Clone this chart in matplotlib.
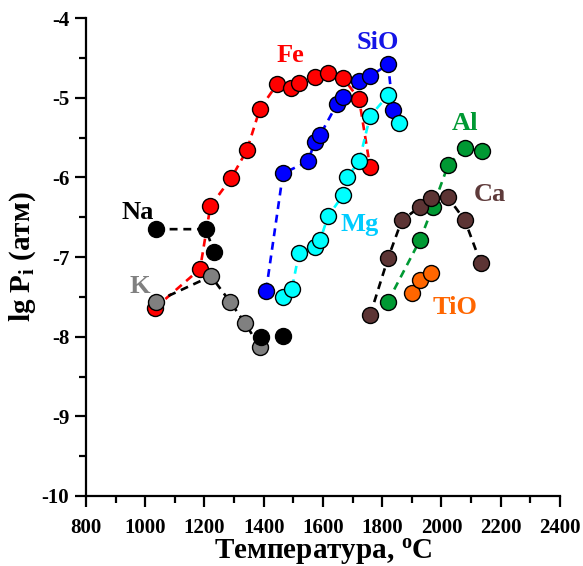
import numpy as np
import matplotlib.pyplot as plt
from matplotlib.ticker import MultipleLocator

plt.rcParams['font.family'] = ['Liberation Serif', 'DejaVu Serif']
plt.rcParams['font.weight'] = 'bold'
plt.rcParams['axes.labelweight'] = 'bold'
plt.rcParams['axes.unicode_minus'] = False
plt.rcParams['mathtext.fontset'] = 'custom'
plt.rcParams['mathtext.rm'] = 'Liberation Serif:bold'
plt.rcParams['mathtext.bf'] = 'Liberation Serif:bold'
plt.rcParams['mathtext.it'] = 'Liberation Serif:bold'

# data: temperature (C), lg P (atm)
fe_t = [1033, 1185, 1220, 1290, 1343, 1387, 1445, 1492, 1519, 1573, 1617, 1668, 1722, 1759]
fe_p = [-7.64, -7.15, -6.36, -6.01, -5.66, -5.14, -4.83, -4.88, -4.82, -4.74, -4.69, -4.75, -5.02, -5.87]

sio_t = [1408, 1465, 1549, 1573, 1590, 1647, 1668, 1722, 1759, 1820, 1836]
sio_p = [-7.42, -5.95, -5.80, -5.55, -5.47, -5.08, -4.99, -4.79, -4.73, -4.58, -5.15]

mg_t = [1465, 1495, 1519, 1573, 1590, 1617, 1668, 1681, 1722, 1759, 1820, 1857]
mg_p = [-7.50, -7.40, -6.95, -6.87, -6.79, -6.49, -6.22, -6.00, -5.80, -5.23, -4.97, -5.32]

na_t = [1036, 1205, 1232, 1391, 1465]
na_p = [-6.65, -6.65, -6.94, -8.00, -7.99]

k_t = [1036, 1222, 1286, 1337, 1387]
k_p = [-7.56, -7.24, -7.56, -7.83, -8.13]

al_t = [1819, 1927, 1971, 2022, 2079, 2137]
al_p = [-7.56, -6.79, -6.37, -5.85, -5.63, -5.67]

ca_t = [1759, 1820, 1866, 1927, 1966, 2022, 2079, 2133]
ca_p = [-7.73, -7.01, -6.54, -6.37, -6.26, -6.25, -6.54, -7.08]

tio_t = [1900, 1927, 1966]
tio_p = [-7.45, -7.29, -7.20]

fig = plt.figure(figsize=(5.83, 5.66), dpi=100)
ax = fig.add_axes([0.1475, 0.1237, 0.813, 0.8443])

ms = 11.5
lw = 1.9
dash = (3, 2.2)

def series(t, p, face, line, nline=None):
    if line is not None:
        n = len(t) if nline is None else nline
        ax.plot(t[:n], p[:n], '--', color=line, lw=lw, dashes=dash, zorder=2)
    ax.plot(t, p, 'o', ms=ms, mfc=face, mec='black', mew=1, zorder=3)

series(fe_t, fe_p, '#ff0000', '#ff0000')
series(k_t, k_p, '#808080', 'black')
series(na_t, na_p, 'black', 'black', nline=3)
series(sio_t, sio_p, '#0000ff', '#0000ff')
series(mg_t, mg_p, '#00ffff', '#00ffff')
series(al_t, al_p, '#009933', '#009933')
series(ca_t, ca_p, '#5c3434', 'black')
series(tio_t, tio_p, '#ff6600', None)

fs = 19
ax.text(1489, -4.47, 'Fe', color='#ff0000', fontsize=fs, ha='center', va='center')
ax.text(1786, -4.30, 'SiO', color='#1414e6', fontsize=fs, ha='center', va='center')
ax.text(975, -6.44, 'Na', color='black', fontsize=fs, ha='center', va='center')
ax.text(982, -7.37, 'K', color='#808080', fontsize=fs, ha='center', va='center')
ax.text(1725, -6.59, 'Mg', color='#00ccff', fontsize=fs, ha='center', va='center')
ax.text(2079, -5.32, 'Al', color='#009933', fontsize=fs, ha='center', va='center')
ax.text(2164, -6.22, 'Ca', color='#5e3a3a', fontsize=fs, ha='center', va='center')
ax.text(2046, -7.63, 'TiO', color='#ff6600', fontsize=fs, ha='center', va='center')

ax.set_xlim(800, 2400)
ax.set_ylim(-10, -4)
ax.xaxis.set_major_locator(MultipleLocator(200))
ax.xaxis.set_minor_locator(MultipleLocator(100))
ax.yaxis.set_major_locator(MultipleLocator(1))
ax.yaxis.set_minor_locator(MultipleLocator(0.5))
ax.spines['top'].set_visible(False)
ax.spines['right'].set_visible(False)
for s in ['left', 'bottom']:
    ax.spines[s].set_linewidth(1.6)
ax.tick_params(which='major', direction='out', length=8, width=1.6, labelsize=15)
ax.tick_params(axis='x', which='major', pad=8)
ax.tick_params(axis='y', which='major', pad=4)
ax.tick_params(which='minor', direction='out', length=5, width=1.6)

ax.set_xlabel('Температура, $^{\\mathregular{o}}$C', fontsize=21, labelpad=-1)
ax.set_ylabel('lg P$_{\\mathregular{i}}$ (атм)', fontsize=21, labelpad=3)

fig.savefig('out.png', dpi=100)
